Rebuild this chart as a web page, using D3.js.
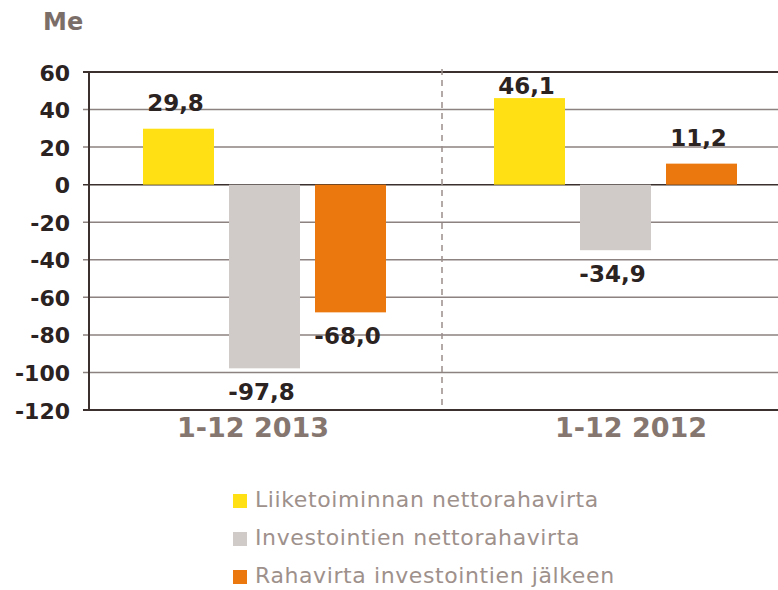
<!DOCTYPE html>
<html>
<head>
<meta charset="utf-8">
<script src="https://cdn.jsdelivr.net/npm/d3@7/dist/d3.min.js"></script>
<style>
  body { margin: 0; background: #fff; }
  svg { display: block; font-family: "DejaVu Sans", Verdana, sans-serif; }
</style>
</head>
<body>
<div id="chart"></div>
<script>
  var periods = ['1-12 2013', '1-12 2012'];
  var seriesNames = ['Liiketoiminnan nettorahavirta', 'Investointien nettorahavirta', 'Rahavirta investointien jälkeen'];
  var liiketoiminta = [29.8, 46.1];
  var investoinnit = [-97.8, -34.9];
  var rahavirta = [-68.0, 11.2];
  var yTicks = [60, 40, 20, 0, -20, -40, -60, -80, -100, -120];
  var colors = ['#ffe014', '#d0cbc8', '#eb780e'];

  var width = 778, height = 590;
  var plotLeft = 89, plotRight = 791, plotTop = 72, plotBottom = 410;

  var svg = d3.select('#chart').append('svg')
    .attr('width', width)
    .attr('height', height);

  var fi = d3.formatLocale({ decimal: ',', thousands: ' ', grouping: [3], currency: ['', ''], minus: '-' });
  var fmt = fi.format('.1f');

  var y = d3.scaleLinear().domain([-120, 60]).range([plotBottom, plotTop]);
  var x0 = d3.scaleBand().domain(periods).range([plotLeft, plotRight]);
  var x1 = d3.scaleBand().domain(d3.range(3)).range([54, 297]).paddingInner(15 / 86);
  // category labels sit slightly off the group centres in the original
  var xLabel = d3.scaleBand().domain(periods).range([64, 820]);

  // grid lines
  svg.append('g').selectAll('line')
    .data(yTicks)
    .enter().append('line')
    .attr('x1', plotLeft - 6)
    .attr('x2', width)
    .attr('y1', function (d) { return y(d); })
    .attr('y2', function (d) { return y(d); })
    .attr('stroke', function (d) { return (d === 0 || d === 60 || d === -120) ? '#3b302d' : '#8c8280'; })
    .attr('stroke-width', function (d) { return (d === 60 || d === -120) ? 2 : 1.5; });

  // y tick labels
  svg.append('g').selectAll('text')
    .data(yTicks)
    .enter().append('text')
    .attr('x', plotLeft - 19)
    .attr('y', function (d) { return y(d) + 8.5; })
    .attr('text-anchor', 'end')
    .attr('font-size', 22)
    .attr('font-weight', 'bold')
    .attr('fill', '#2b2222')
    .text(function (d) { return d; });

  // divider
  svg.append('line')
    .attr('x1', x0(periods[1]) + 2)
    .attr('x2', x0(periods[1]) + 2)
    .attr('y1', plotTop - 3)
    .attr('y2', plotBottom)
    .attr('stroke', '#9a8f8b')
    .attr('stroke-width', 1.5)
    .attr('stroke-dasharray', '6,5');

  var rows = periods.map(function (p, i) {
    return { period: p, values: [liiketoiminta[i], investoinnit[i], rahavirta[i]] };
  });

  var groups = svg.append('g').selectAll('g')
    .data(rows)
    .enter().append('g')
    .attr('transform', function (d) { return 'translate(' + x0(d.period) + ',0)'; });

  groups.selectAll('rect')
    .data(function (d) { return d.values; })
    .enter().append('rect')
    .attr('x', function (d, i) { return x1(i); })
    .attr('width', x1.bandwidth())
    .attr('y', function (d) { return y(Math.max(0, d)); })
    .attr('height', function (d) { return Math.abs(y(d) - y(0)); })
    .attr('fill', function (d, i) { return colors[i]; });

  groups.selectAll('text.val')
    .data(function (d) { return d.values; })
    .enter().append('text')
    .attr('class', 'val')
    .attr('x', function (d, i) { return x1(i) + x1.bandwidth() / 2 - 3; })
    .attr('y', function (d) {
      if (d >= 0) return Math.max(y(d) - 18, plotTop + 22);
      return y(d) + 32;
    })
    .attr('text-anchor', 'middle')
    .attr('font-size', 23)
    .attr('font-weight', 'bold')
    .attr('fill', '#2b2222')
    .text(fmt);

  // left axis
  svg.append('line')
    .attr('x1', plotLeft).attr('x2', plotLeft)
    .attr('y1', plotTop - 1).attr('y2', plotBottom + 1)
    .attr('stroke', '#3b302d')
    .attr('stroke-width', 2);

  // category labels
  svg.append('g').selectAll('text')
    .data(periods)
    .enter().append('text')
    .attr('x', function (d) { return xLabel(d) + xLabel.bandwidth() / 2; })
    .attr('y', 437)
    .attr('text-anchor', 'middle')
    .attr('font-size', 27)
    .attr('font-weight', 'bold')
    .attr('fill', '#857670')
    .text(function (d) { return d; });

  // unit title
  svg.append('text')
    .attr('x', 43)
    .attr('y', 30)
    .attr('font-size', 24)
    .attr('font-weight', 'bold')
    .attr('fill', '#7b6e69')
    .text('Me');

  // legend
  var legend = svg.append('g').selectAll('g')
    .data(seriesNames)
    .enter().append('g')
    .attr('transform', function (d, i) { return 'translate(233,' + (494 + i * 38) + ')'; });

  legend.append('rect')
    .attr('width', 14)
    .attr('height', 14)
    .attr('fill', function (d, i) { return colors[i]; });

  legend.append('text')
    .attr('x', 22)
    .attr('y', 13)
    .attr('font-size', 22)
    .attr('letter-spacing', 0.6)
    .attr('fill', '#9e918c')
    .text(function (d) { return d; });
</script>
</body>
</html>
